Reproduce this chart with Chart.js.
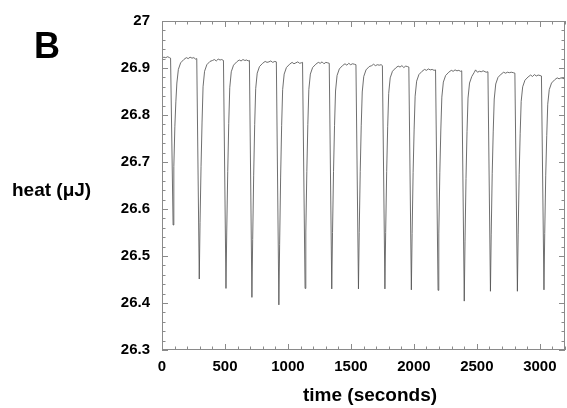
<!DOCTYPE html>
<html>
<head>
<meta charset="utf-8">
<script src="https://cdn.jsdelivr.net/npm/chart.js@4.4.1/dist/chart.umd.min.js"></script>
<style>
  html, body { margin: 0; padding: 0; background: #fff; }
  #wrap { position: relative; width: 567px; height: 408px; }
</style>
</head>
<body>
<div id="wrap"><canvas id="chart"></canvas></div>
<script>
// trace: time (s) and heat (uJ)
const time = [
  0, 15, 30, 45, 60, 68,
  88, 94, 102, 110, 118, 130, 148, 173, 193, 208, 223, 238, 253, 266, 276,
  296, 302, 310, 318, 326, 338, 356, 381, 401, 416, 431, 446, 461, 474, 488,
  508, 514, 522, 530, 538, 550, 568, 593, 613, 628, 643, 658, 673, 684, 694,
  714, 720, 728, 736, 744, 756, 774, 799, 819, 834, 849, 864, 879, 896, 908,
  928, 934, 942, 950, 958, 970, 988, 1013, 1033, 1048, 1063, 1078, 1093, 1106, 1116,
  1136, 1142, 1150, 1158, 1166, 1178, 1196, 1221, 1241, 1256, 1271, 1286, 1301, 1316, 1328,
  1348, 1354, 1362, 1370, 1378, 1390, 1408, 1433, 1453, 1468, 1483, 1498, 1513, 1528, 1540,
  1560, 1566, 1574, 1582, 1590, 1602, 1620, 1645, 1665, 1680, 1695, 1710, 1725, 1740, 1750,
  1770, 1776, 1784, 1792, 1800, 1812, 1830, 1855, 1875, 1890, 1905, 1920, 1935, 1950, 1960,
  1980, 1986, 1994, 2002, 2010, 2022, 2040, 2065, 2085, 2100, 2115, 2130, 2145, 2160, 2172,
  2192, 2198, 2206, 2214, 2222, 2234, 2252, 2277, 2297, 2312, 2327, 2342, 2357, 2370, 2380,
  2400, 2406, 2414, 2422, 2430, 2442, 2460, 2478, 2490, 2505, 2520, 2535, 2550, 2574, 2588,
  2608, 2614, 2622, 2630, 2638, 2650, 2668, 2693, 2713, 2728, 2743, 2758, 2773, 2790, 2802,
  2822, 2828, 2836, 2844, 2852, 2864, 2882, 2907, 2927, 2942, 2957, 2972, 2987, 3002, 3013,
  3033, 3039, 3047, 3055, 3063, 3075, 3093, 3118, 3138, 3153, 3168, 3182, 3195
];
const heat = [
  26.921, 26.923, 26.922, 26.924, 26.922, 26.921,
  26.566, 26.690, 26.775, 26.828, 26.868, 26.897, 26.911, 26.918, 26.922, 26.920, 26.923, 26.921, 26.922, 26.919, 26.920,
  26.451, 26.571, 26.690, 26.785, 26.860, 26.893, 26.907, 26.914, 26.916, 26.918, 26.915, 26.919, 26.917, 26.918, 26.916,
  26.431, 26.551, 26.680, 26.782, 26.858, 26.892, 26.906, 26.913, 26.917, 26.915, 26.918, 26.916, 26.917, 26.915, 26.916,
  26.412, 26.535, 26.672, 26.780, 26.856, 26.889, 26.903, 26.910, 26.914, 26.912, 26.913, 26.915, 26.912, 26.914, 26.913,
  26.396, 26.525, 26.668, 26.778, 26.854, 26.887, 26.901, 26.908, 26.912, 26.909, 26.911, 26.913, 26.910, 26.911, 26.912,
  26.431, 26.551, 26.680, 26.780, 26.854, 26.887, 26.901, 26.908, 26.912, 26.910, 26.913, 26.909, 26.912, 26.911, 26.910,
  26.430, 26.550, 26.680, 26.778, 26.851, 26.884, 26.898, 26.905, 26.909, 26.906, 26.910, 26.907, 26.909, 26.908, 26.907,
  26.430, 26.550, 26.680, 26.777, 26.849, 26.882, 26.896, 26.903, 26.905, 26.908, 26.905, 26.907, 26.906, 26.907, 26.905,
  26.430, 26.550, 26.680, 26.775, 26.846, 26.879, 26.893, 26.900, 26.904, 26.902, 26.905, 26.901, 26.904, 26.903, 26.902,
  26.428, 26.548, 26.678, 26.770, 26.840, 26.872, 26.886, 26.893, 26.897, 26.895, 26.898, 26.896, 26.897, 26.895, 26.896,
  26.427, 26.547, 26.677, 26.768, 26.838, 26.870, 26.884, 26.891, 26.895, 26.893, 26.896, 26.894, 26.895, 26.893, 26.894,
  26.404, 26.530, 26.665, 26.765, 26.836, 26.868, 26.882, 26.890, 26.896, 26.891, 26.893, 26.892, 26.894, 26.891, 26.892,
  26.425, 26.545, 26.675, 26.764, 26.834, 26.866, 26.880, 26.887, 26.891, 26.889, 26.891, 26.890, 26.891, 26.890, 26.889,
  26.425, 26.545, 26.673, 26.760, 26.829, 26.860, 26.874, 26.881, 26.885, 26.882, 26.886, 26.883, 26.885, 26.884, 26.883,
  26.428, 26.548, 26.672, 26.756, 26.823, 26.854, 26.868, 26.875, 26.879, 26.877, 26.879, 26.878, 26.877
];

// axis ranges and tick values
const xRange = [0, 3200];
const yRange = [26.3, 27];
const xTicks = [0, 500, 1000, 1500, 2000, 2500, 3000];
const yTicks = [26.3, 26.4, 26.5, 26.6, 26.7, 26.8, 26.9, 27];
const xMinor = 100, yMinor = 0.02;

const FONT = '"Liberation Sans", Arial, sans-serif';
const frameColor = '#8a8a8a';

// frame, inward ticks on all four sides, and the loose labels
const decor = {
  id: 'decor',
  afterDatasetsDraw(chart) {
    const { ctx, chartArea: a, scales: { x, y } } = chart;
    ctx.save();
    ctx.strokeStyle = frameColor;
    ctx.lineWidth = 1;
    ctx.strokeRect(Math.round(a.left) + 0.5, Math.round(a.top) + 0.5,
      Math.round(a.right - a.left) - 1, Math.round(a.bottom - a.top) - 1);

    ctx.beginPath();
    const nx = Math.round((xRange[1] - xRange[0]) / xMinor);
    for (let i = 0; i <= nx; i++) {
      const v = xRange[0] + i * xMinor;
      const px = Math.round(x.getPixelForValue(v)) + 0.5;
      const len = xTicks.includes(v) ? 6 : 3.5;
      ctx.moveTo(px, a.bottom); ctx.lineTo(px, a.bottom - len);
      ctx.moveTo(px, a.top); ctx.lineTo(px, a.top + len);
    }
    const ny = Math.round((yRange[1] - yRange[0]) / yMinor);
    for (let i = 0; i <= ny; i++) {
      const v = yRange[0] + i * yMinor;
      const py = Math.round(y.getPixelForValue(v)) + 0.5;
      const len = (i % 5 === 0) ? 6 : 3.5;
      ctx.moveTo(a.left, py); ctx.lineTo(a.left + len, py);
      ctx.moveTo(a.right, py); ctx.lineTo(a.right - len, py);
    }
    ctx.stroke();

    ctx.fillStyle = '#000';
    ctx.textBaseline = 'alphabetic';
    ctx.textAlign = 'left';
    ctx.font = 'bold 36px ' + FONT;
    ctx.fillText('B', 34, 58);
    ctx.font = 'bold 19px ' + FONT;
    ctx.fillText('heat (\u03bcJ)', 12, 196);
    ctx.textAlign = 'center';
    ctx.font = 'bold 19px ' + FONT;
    ctx.fillText('time (seconds)', 370, 401);
    ctx.restore();
  }
};

new Chart(document.getElementById('chart'), {
  type: 'line',
  data: {
    datasets: [{
      data: time.map((t, i) => ({ x: t, y: heat[i] })),
      borderColor: '#555555',
      borderWidth: 0.85,
      pointRadius: 0,
      tension: 0,
      fill: false
    }]
  },
  options: {
    responsive: true,
    maintainAspectRatio: false,
    animation: false,
    layout: { padding: { top: 21, right: 2, left: 0, bottom: 0 } },
    plugins: { legend: { display: false }, tooltip: { enabled: false } },
    scales: {
      x: {
        type: 'linear',
        min: xRange[0],
        max: xRange[1],
        grid: { display: false, drawTicks: false },
        border: { display: false },
        afterBuildTicks: scale => { scale.ticks = xTicks.map(v => ({ value: v })); },
        ticks: {
          padding: 8,
          color: '#000',
          font: { family: FONT, size: 15, weight: 'bold' },
          maxRotation: 0,
          autoSkip: false,
          callback: v => String(v)
        },
        afterFit(scale) { scale.height = 58; }
      },
      y: {
        min: yRange[0],
        max: yRange[1],
        grid: { display: false, drawTicks: false },
        border: { display: false },
        afterBuildTicks: scale => { scale.ticks = yTicks.map(v => ({ value: v })); },
        ticks: {
          padding: 12,
          color: '#000',
          font: { family: FONT, size: 15, weight: 'bold' },
          autoSkip: false,
          callback: v => String(Number(v.toFixed(1)))
        },
        afterFit(scale) { scale.width = 162; }
      }
    }
  },
  plugins: [decor]
});
</script>
</body>
</html>
